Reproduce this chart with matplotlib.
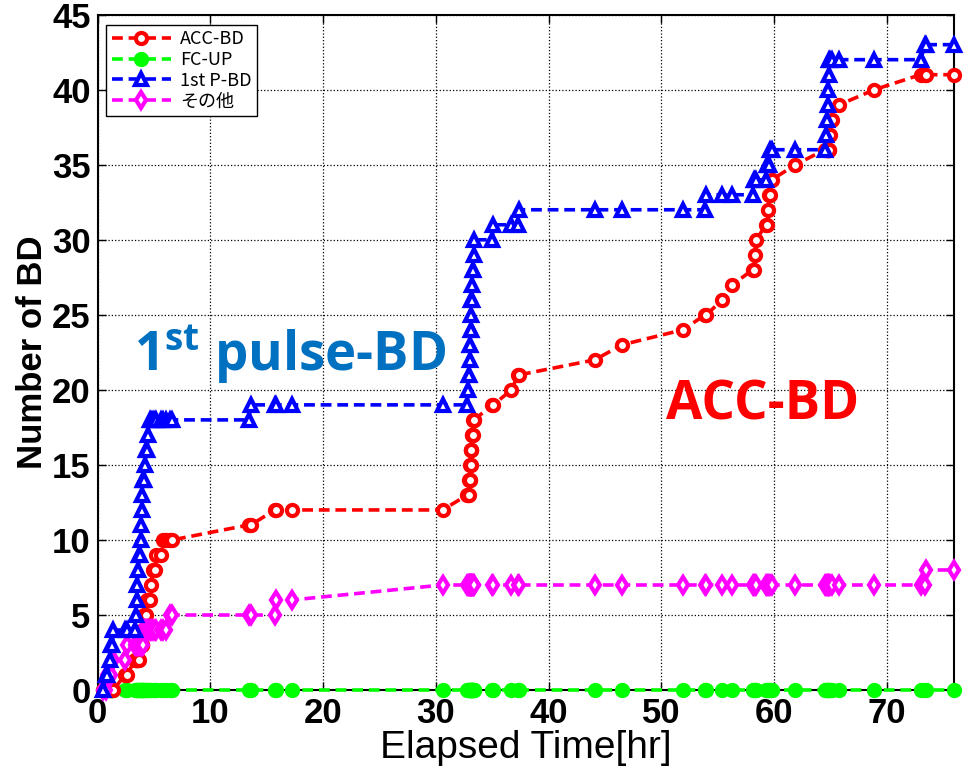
import matplotlib.pyplot as plt
import numpy as np

plt.rcParams['font.family'] = ['Liberation Sans Narrow', 'Liberation Sans', 'DejaVu Sans']
plt.rcParams['mathtext.fontset'] = 'custom'
plt.rcParams['mathtext.rm'] = 'Open Sans'
plt.rcParams['mathtext.bf'] = 'Open Sans:bold'

# elapsed time of each logged event [hr]
t = [0.5, 0.7, 0.8, 1.1, 1.2, 1.3, 1.4, 2.4, 2.6, 3.3,
     3.4, 3.45, 3.5, 3.6, 3.7, 3.75, 3.8, 3.85, 3.9, 3.95,
     4.0, 4.05, 4.1, 4.2, 4.3, 4.4, 4.45, 4.6, 4.7, 4.9,
     5.1, 5.2, 5.6, 5.8, 6.1, 6.4, 6.6,
     13.4, 13.6, 15.7, 15.8, 17.2, 30.6,
     32.8, 32.85, 32.9, 32.95, 33.0, 33.02, 33.05, 33.08, 33.1, 33.12,
     33.15, 33.18, 33.2, 33.25, 33.3, 33.35, 33.4, 35.0, 35.1, 36.7,
     37.3, 37.4, 44.1, 46.5, 51.9, 53.9, 54.0, 55.4, 56.3, 58.1,
     58.2, 58.3, 58.4, 59.3, 59.4, 59.5, 59.55, 59.6, 59.8, 61.9,
     64.5, 64.6, 64.7, 64.75, 64.8, 64.85, 64.9, 65.0, 65.1, 65.8,
     68.9, 73.0, 73.4, 73.5, 76.0]

acc_bd = [0, 0, 0, 0, 0, 0, 0, 1, 1, 2,
          2, 2, 2, 2, 2, 3, 3, 3, 3, 3,
          4, 4, 5, 5, 5, 6, 6, 6, 7, 8,
          8, 9, 9, 10, 10, 10, 10,
          11, 11, 12, 12, 12, 12,
          13, 13, 13, 14, 14, 14, 15, 15, 16, 16,
          16, 17, 17, 17, 18, 18, 18, 19, 19, 20,
          21, 21, 22, 23, 24, 25, 25, 26, 27, 28,
          28, 29, 30, 31, 31, 32, 33, 33, 34, 35,
          36, 36, 36, 36, 36, 36, 36, 37, 38, 39,
          40, 41, 41, 41, 41]

fc_up = [0] * len(t)

p_bd = [0, 1, 1, 2, 3, 3, 4, 4, 4, 4,
        5, 6, 7, 8, 9, 9, 10, 11, 12, 13,
        14, 14, 14, 15, 16, 16, 17, 18, 18, 18,
        18, 18, 18, 18, 18, 18, 18,
        18, 19, 19, 19, 19, 19,
        19, 20, 21, 21, 22, 23, 23, 24, 24, 25,
        26, 26, 27, 28, 28, 29, 30, 30, 31, 31,
        31, 32, 32, 32, 32, 32, 33, 33, 33, 33,
        34, 34, 34, 34, 35, 35, 35, 36, 36, 36,
        36, 37, 38, 39, 40, 41, 42, 42, 42, 42,
        42, 42, 43, 43, 43]

other = [0, 0, 1, 1, 1, 2, 2, 2, 3, 3,
         3, 3, 3, 3, 3, 3, 3, 3, 3, 3,
         3, 4, 4, 4, 4, 4, 4, 4, 4, 4,
         4, 4, 4, 4, 4, 5, 5,
         5, 5, 5, 6, 6, 7,
         7, 7, 7, 7, 7, 7, 7, 7, 7, 7,
         7, 7, 7, 7, 7, 7, 7, 7, 7, 7,
         7, 7, 7, 7, 7, 7, 7, 7, 7, 7,
         7, 7, 7, 7, 7, 7, 7, 7, 7, 7,
         7, 7, 7, 7, 7, 7, 7, 7, 7, 7,
         7, 7, 7, 8, 8]

fig = plt.figure(figsize=(9.67, 7.71), dpi=100)
ax = fig.add_axes([0.101, 0.105, 0.886, 0.876])

style = dict(linestyle='--', linewidth=2.6, markersize=8, markeredgewidth=3,
             clip_on=False, dashes=(3, 1.6))
ax.plot(t, acc_bd, color='#ff0000', marker='o', markerfacecolor='white',
        label='ACC-BD', zorder=4, **style)
ax.plot(t, fc_up, color='#00ff00', marker='o', markerfacecolor='#00ff00',
        label='FC-UP', zorder=3, **style)
ax.plot(t, p_bd, color='#0000ff', marker='^', markerfacecolor='white',
        label='1st P-BD', zorder=5, **style)
ax.plot(t, other, color='#ff00ff', marker='d', markerfacecolor='white',
        label='その他', zorder=4, **style)

ax.set_xlim(0, 76.0)
ax.set_ylim(0, 45)
ax.set_xticks(np.arange(0, 71, 10))
ax.set_yticks(np.arange(0, 46, 5))
ax.grid(True, linestyle=':', color='black', linewidth=0.9)
ax.tick_params(direction='in', top=True, right=True, length=6, width=1,
               labelsize=25, pad=5)
for lab in ax.get_xticklabels() + ax.get_yticklabels():
    lab.set_fontweight('bold')
for s in ax.spines.values():
    s.set_linewidth(1.5)

ax.set_xlabel('Elapsed Time[hr]', fontsize=28, labelpad=0)
ax.set_ylabel('Number of BD', fontsize=25, fontweight='bold', labelpad=2)

leg = ax.legend(loc='upper left', fancybox=False, framealpha=1,
                edgecolor='black', handlelength=3.3, borderpad=0.3,
                labelspacing=0.15, handletextpad=0.5, borderaxespad=0,
                bbox_to_anchor=(0.01, 0.985),
                prop={'family': ['Noto Sans CJK JP', 'DejaVu Sans'], 'size': 13})
leg.get_frame().set_linewidth(1.0)

ax.text(3.25, 21.2, r'1$^{\mathbf{st}}$ pulse-BD', color='#0070c0', fontsize=38,
        fontweight='bold', family='Open Sans', ha='left', va='baseline')
ax.text(50.4, 18.0, 'ACC-BD', color='#ff0000', fontsize=38,
        fontweight='bold', family='Open Sans', ha='left', va='baseline')

fig.savefig('out.png', dpi=100)
